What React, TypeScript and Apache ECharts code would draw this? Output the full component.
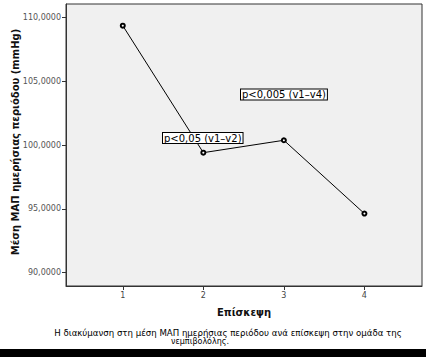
import React, { useEffect, useRef } from "react";
import * as echarts from "echarts";

const visits = [1, 2, 3, 4];
const meanMAP = [109.34, 99.4, 100.37, 94.63];
const yTicks = [90, 95, 100, 105, 110];
const xTicks = [1, 2, 3, 4];
const yTitle = "Μέση ΜΑΠ ημερήσιας περιόδου (mmHg)";
const xTitle = "Επίσκεψη";
const caption1 = "Η διακύμανση στη μέση ΜΑΠ ημερήσιας περιόδου ανά επίσκεψη στην ομάδα της";
const caption2 = "νεμπιβολόλης.";
const note1 = "p<0,005 (v1–v4)";
const note2 = "p<0,05 (v1–v2)";

export default function App() {
  const ref = useRef<HTMLDivElement>(null);
  useEffect(() => {
    if (!ref.current) return;
    const chart = echarts.init(ref.current, null, { renderer: "svg" });
    const font = "'DejaVu Sans', sans-serif";
    chart.setOption({
      animation: false,
      backgroundColor: "#ffffff",
      grid: {
        left: 66,
        top: 4,
        right: 4,
        bottom: 71,
        show: true,
        backgroundColor: "#f0f0f0",
        borderColor: "#333333",
        borderWidth: 1,
      },
      xAxis: {
        type: "value",
        min: 0.295,
        max: 4.715,
        splitLine: { show: false },
        axisLine: { show: true, lineStyle: { color: "#333" } },
        axisTick: { show: true, length: 4, customValues: xTicks, lineStyle: { color: "#333" } },
        axisLabel: {
          customValues: xTicks,
          fontSize: 8,
          color: "#444",
          fontFamily: font,
          margin: 5,
        },
      },
      yAxis: {
        type: "value",
        min: 88.96,
        max: 111.04,
        splitLine: { show: false },
        axisLine: { show: true, lineStyle: { color: "#333" } },
        axisTick: { show: true, length: 4, customValues: yTicks, lineStyle: { color: "#333" } },
        axisLabel: {
          customValues: yTicks,
          fontSize: 8,
          color: "#555",
          fontFamily: font,
          margin: 5,
          formatter: (v: number) => v.toFixed(4).replace(".", ","),
        },
      },
      series: [
        {
          type: "line",
          data: visits.map((v, i) => [v, meanMAP[i]]),
          symbol: "emptyCircle",
          symbolSize: 4,
          itemStyle: { color: "#000", borderColor: "#000", borderWidth: 0.8 },
          lineStyle: { color: "#000", width: 1 },
        },
      ],
      graphic: [
        {
          type: "text",
          x: 15,
          y: 142,
          rotation: Math.PI / 2,
          style: {
            text: yTitle,
            fontSize: 10,
            fontWeight: "bold",
            fontFamily: font,
            fill: "#111",
            align: "center",
            verticalAlign: "middle",
          },
        },
        {
          type: "text",
          x: 244,
          y: 312,
          style: {
            text: xTitle,
            fontSize: 10,
            fontWeight: "bold",
            fontFamily: font,
            fill: "#111",
            align: "center",
            verticalAlign: "middle",
          },
        },
        {
          type: "text",
          x: 228,
          y: 333,
          style: {
            text: caption1,
            fontSize: 8.6,
            fontFamily: font,
            fill: "#000",
            align: "center",
            verticalAlign: "middle",
          },
        },
        {
          type: "text",
          x: 200,
          y: 341,
          style: {
            text: caption2,
            fontSize: 8,
            fontFamily: font,
            fill: "#000",
            align: "center",
            verticalAlign: "middle",
          },
        },
        {
          type: "text",
          x: 241,
          y: 89.5,
          z: 10,
          style: {
            text: note1,
            fontSize: 10,
            fontFamily: font,
            fill: "#000",
            backgroundColor: "#ffffff",
            borderColor: "#000",
            borderWidth: 1,
            padding: [0, 1, 0, 1],
            align: "left",
            verticalAlign: "top",
          },
        },
        {
          type: "text",
          x: 163,
          y: 133,
          z: 10,
          style: {
            text: note2,
            fontSize: 10,
            fontFamily: font,
            fill: "#000",
            backgroundColor: "#ffffff",
            borderColor: "#000",
            borderWidth: 1,
            padding: [0, 1, 0, 1],
            align: "left",
            verticalAlign: "top",
          },
        },
        {
          type: "rect",
          shape: { x: 0, y: 349, width: 426, height: 8 },
          style: { fill: "#000" },
        },
      ],
    });
    return () => chart.dispose();
  }, []);
  return (
    <div
      ref={ref}
      style={{ position: "fixed", left: 0, top: 0, width: 426, height: 357 }}
    />
  );
}
